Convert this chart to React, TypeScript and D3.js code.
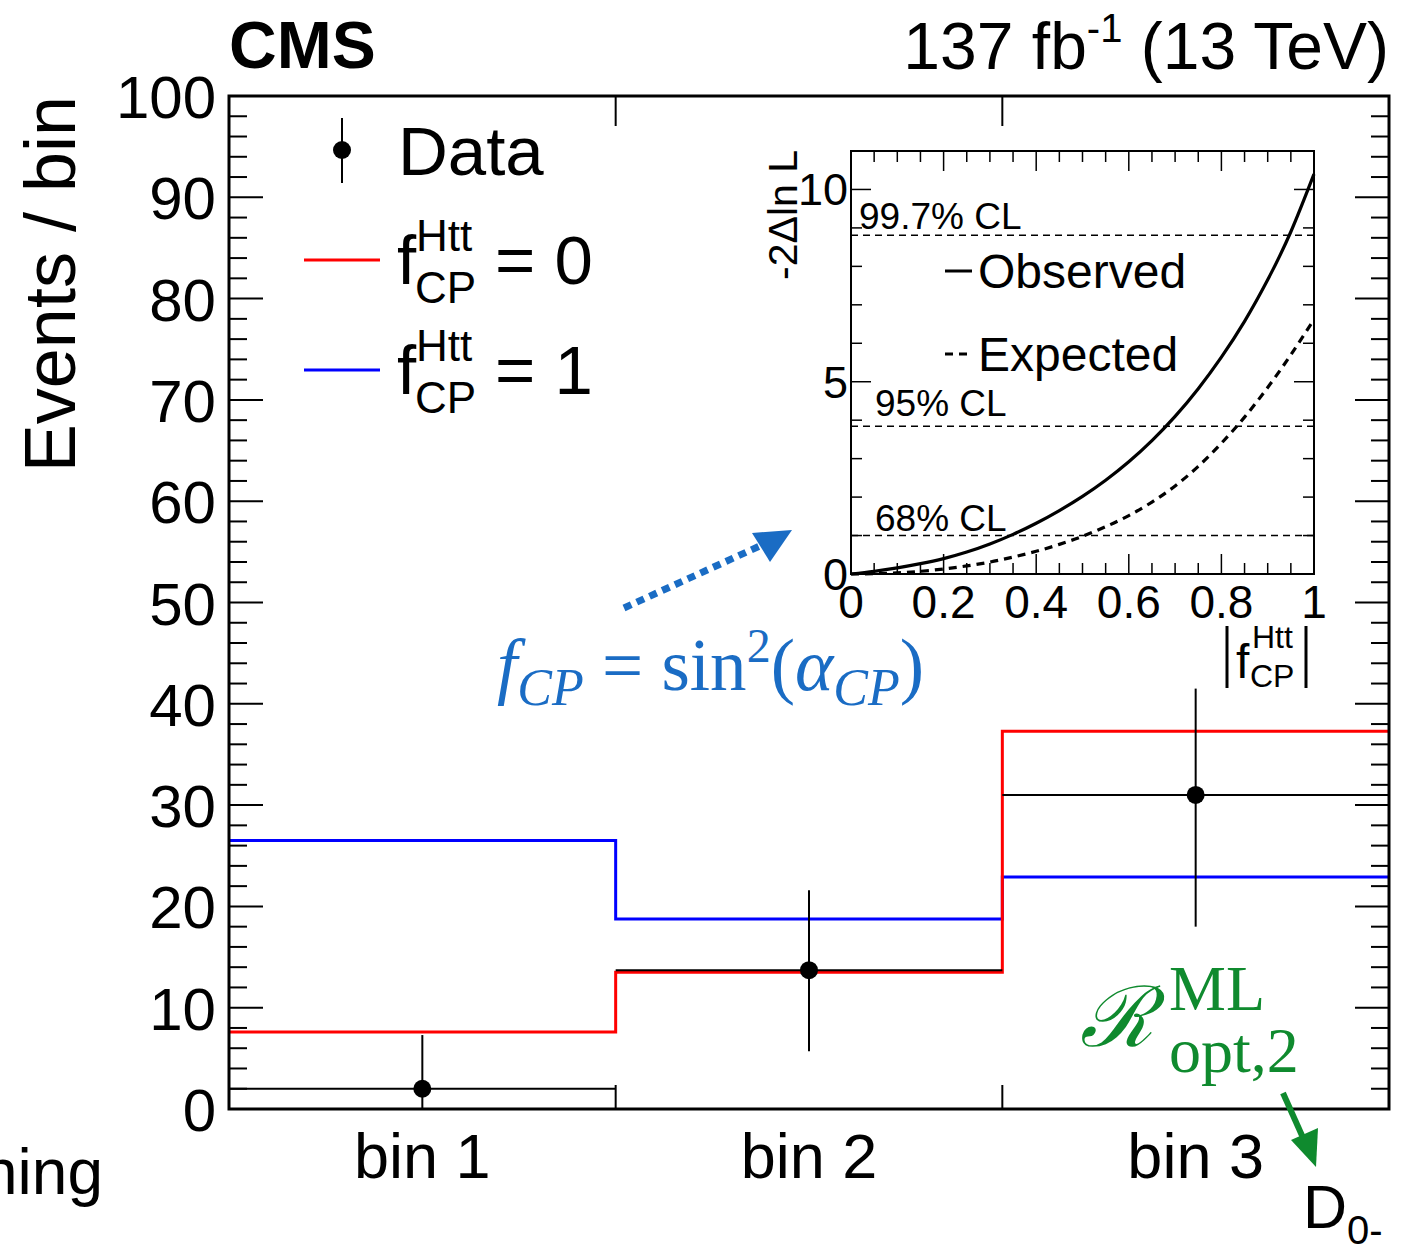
import React from "react";
import * as d3 from "d3";

const bins = ["bin 1", "bin 2", "bin 3"];
const sm0 = [7.6, 13.5, 37.3];
const sm1 = [26.5, 18.75, 22.9];
const dataVal = [2, 13.7, 31];
const dataHi = [7.3, 21.6, 41.5];
const dataLo = [0, 5.7, 18.0];
const yTicks = [0, 10, 20, 30, 40, 50, 60, 70, 80, 90, 100];

const fGrid = [0, 0.05, 0.1, 0.15, 0.2, 0.25, 0.3, 0.35, 0.4, 0.45, 0.5, 0.55, 0.6, 0.65, 0.7, 0.75, 0.8, 0.85, 0.9, 0.95, 1.0];
const observed = [0, 0.07, 0.16, 0.27, 0.4, 0.57, 0.78, 1.03, 1.32, 1.65, 2.02, 2.44, 2.92, 3.47, 4.1, 4.82, 5.64, 6.57, 7.65, 8.9, 10.4];
const expected = [0, 0.01, 0.03, 0.07, 0.13, 0.21, 0.31, 0.44, 0.59, 0.77, 0.98, 1.23, 1.52, 1.87, 2.29, 2.8, 3.4, 4.08, 4.85, 5.7, 6.62];
const clLevels = [1.0, 3.84, 8.81];
const clLabels = ["68% CL", "95% CL", "99.7% CL"];
const insetXTicks = [0, 0.2, 0.4, 0.6, 0.8, 1];
const insetXTickLabels = ["0", "0.2", "0.4", "0.6", "0.8", "1"];
const insetYTicks = [0, 5, 10];

const FONT = "'Liberation Sans', Arial, Helvetica, sans-serif";
const SERIF = "'Liberation Serif', 'DejaVu Serif', 'Times New Roman', serif";
const RED = "#ff0000";
const BLUE = "#0000ff";
const ANN_BLUE = "#1a6cc4";
const GREEN = "#0f8a2e";

export default function App() {
  const L = 229, R = 1389, T = 96, B = 1109;
  const x = d3.scaleLinear().domain([0, 3]).range([L, R]);
  const y = d3.scaleLinear().domain([0, 100]).range([B, T]);

  const stepPath = (vals: number[]) => {
    let p = "";
    vals.forEach((v, i) => {
      p += (i === 0 ? "M" : "L") + x(i) + "," + y(v) + "L" + x(i + 1) + "," + y(v);
    });
    return p;
  };

  // inset
  const iL = 851, iR = 1314, iT = 151, iB = 574;
  const ix = d3.scaleLinear().domain([0, 1]).range([iL, iR]);
  const iy = d3.scaleLinear().domain([0, 11.0]).range([iB, iT]);
  const line = d3
    .line<number>()
    .x((_, i) => ix(fGrid[i]))
    .y((d) => iy(d))
    .curve(d3.curveNatural);

  const minorY = d3.range(0, 101, 2);
  const insetMinorY = d3.range(0, 12, 1);
  const insetMinorX = d3.range(0, 1.0001, 0.05);

  return (
    <svg width={1411} height={1248} style={{ position: "absolute", left: 0, top: 0, background: "#fff" }} fontFamily={FONT}>
      <rect x={0} y={0} width={1411} height={1248} fill="#fff" />
      {/* header */}
      <text x={229} y={68} fontSize={66} fontWeight="bold">CMS</text>
      <text x={1389} y={69} fontSize={66} textAnchor="end">
        137 fb<tspan dy={-27} fontSize={40}>-1</tspan>
        <tspan dy={27}> (13 TeV)</tspan>
      </text>
      {/* y title */}
      <text transform={`translate(75,96) rotate(-90)`} fontSize={72} textAnchor="end">Events / bin</text>

      {/* histograms */}
      <path d={stepPath(sm1)} fill="none" stroke={BLUE} strokeWidth={3} />
      <path d={stepPath(sm0)} fill="none" stroke={RED} strokeWidth={3} />
      {dataVal.map((v, i) => (
        <line key={"dh" + i} x1={x(i)} x2={x(i + 1)} y1={y(v)} y2={y(v)} stroke="#000" strokeWidth={2} />
      ))}
      {dataVal.map((v, i) => (
        <g key={"d" + i}>
          <line x1={x(i + 0.5)} x2={x(i + 0.5)} y1={y(dataLo[i])} y2={y(dataHi[i])} stroke="#000" strokeWidth={2} />
          <circle cx={x(i + 0.5)} cy={y(v)} r={9} fill="#000" />
        </g>
      ))}

      {/* main frame */}
      <rect x={L} y={T} width={R - L} height={B - T} fill="none" stroke="#000" strokeWidth={3} />
      {minorY.map((t) => {
        const major = t % 10 === 0;
        const len = major ? 34 : 18;
        return (
          <g key={"yt" + t}>
            <line x1={L} x2={L + len} y1={y(t)} y2={y(t)} stroke="#000" strokeWidth={2} />
            <line x1={R} x2={R - len} y1={y(t)} y2={y(t)} stroke="#000" strokeWidth={2} />
          </g>
        );
      })}
      {[1, 2].map((b) => (
        <g key={"xt" + b}>
          <line x1={x(b)} x2={x(b)} y1={B} y2={B - 24} stroke="#000" strokeWidth={2} />
          <line x1={x(b)} x2={x(b)} y1={T} y2={T + 30} stroke="#000" strokeWidth={2} />
        </g>
      ))}
      {yTicks.map((t) => (
        <text key={"yl" + t} x={216} y={y(t) + 22} fontSize={60} textAnchor="end">{t}</text>
      ))}
      {bins.map((b, i) => (
        <text key={"bl" + i} x={x(i + 0.5)} y={1178} fontSize={63} textAnchor="middle">{b}</text>
      ))}
      <text x={103} y={1194} fontSize={64} textAnchor="end">hing</text>
      <text x={1303} y={1228} fontSize={61}>D<tspan dy={16} fontSize={40}>0-</tspan></text>

      {/* legend */}
      <line x1={342} x2={342} y1={118} y2={183} stroke="#000" strokeWidth={2} />
      <circle cx={342} cy={150} r={9} fill="#000" />
      <text x={398} y={175} fontSize={69}>Data</text>
      <line x1={304} x2={380} y1={260} y2={260} stroke={RED} strokeWidth={3} />
      <line x1={304} x2={380} y1={370} y2={370} stroke={BLUE} strokeWidth={3} />
      {[0, 1].map((k) => (
        <g key={"lg" + k} transform={`translate(0,${k * 110})`}>
          <text x={397} y={284} fontSize={69}>f</text>
          <text x={416} y={251} fontSize={44}>Htt</text>
          <text x={415} y={303} fontSize={44}>CP</text>
          <text x={495} y={284} fontSize={69}>= {k}</text>
        </g>
      ))}

      {/* annotation */}
      <line x1={624} x2={762} y1={608} y2={545} stroke={ANN_BLUE} strokeWidth={7} strokeDasharray="8 6" />
      <polygon points="792,530 752,533 770,562" fill={ANN_BLUE} />
      <text x={497} y={690} fontSize={73} fill={ANN_BLUE} fontFamily={SERIF}>
        <tspan fontStyle="italic">f</tspan>
        <tspan fontStyle="italic" fontSize={52} dy={15}>CP</tspan>
        <tspan dy={-15}> = sin</tspan>
        <tspan fontSize={48} dy={-28}>2</tspan>
        <tspan dy={28}>(</tspan>
        <tspan fontStyle="italic">α</tspan>
        <tspan fontStyle="italic" fontSize={52} dy={15}>CP</tspan>
        <tspan dy={-15}>)</tspan>
      </text>

      <text x={1080} y={1046} fontSize={84} fill={GREEN} fontFamily={SERIF} fontStyle="italic">ℛ</text>
      <text x={1169} y={1010} fontSize={64} fill={GREEN} fontFamily={SERIF}>ML</text>
      <text x={1169} y={1072} fontSize={64} fill={GREEN} fontFamily={SERIF}>opt,2</text>
      <line x1={1283} x2={1304} y1={1093} y2={1140} stroke={GREEN} strokeWidth={6} />
      <polygon points="1316,1167 1291,1140 1318,1128" fill={GREEN} />

      {/* inset */}
      <rect x={iL} y={iT} width={iR - iL} height={iB - iT} fill="#fff" stroke="#000" strokeWidth={2} />
      {clLevels.map((c, i) => (
        <line key={"cl" + i} x1={iL} x2={iR} y1={iy(c)} y2={iy(c)} stroke="#000" strokeWidth={1.5} strokeDasharray="7 5" />
      ))}
      <text x={875} y={531} fontSize={37}>{clLabels[0]}</text>
      <text x={875} y={416} fontSize={37}>{clLabels[1]}</text>
      <text x={859} y={229} fontSize={37}>{clLabels[2]}</text>
      <path d={line(observed) || ""} fill="none" stroke="#000" strokeWidth={3.2} />
      <path d={line(expected) || ""} fill="none" stroke="#000" strokeWidth={3.2} strokeDasharray="8 6" />
      {insetMinorY.map((t) => {
        const len = t % 5 === 0 ? 20 : 11;
        return (
          <g key={"iyt" + t}>
            <line x1={iL} x2={iL + len} y1={iy(t)} y2={iy(t)} stroke="#000" strokeWidth={1.5} />
            <line x1={iR} x2={iR - len} y1={iy(t)} y2={iy(t)} stroke="#000" strokeWidth={1.5} />
          </g>
        );
      })}
      {insetMinorX.map((t, i) => {
        const len = i % 4 === 0 ? 20 : 11;
        return (
          <g key={"ixt" + i}>
            <line x1={ix(t)} x2={ix(t)} y1={iB} y2={iB - len} stroke="#000" strokeWidth={1.5} />
            <line x1={ix(t)} x2={ix(t)} y1={iT} y2={iT + len} stroke="#000" strokeWidth={1.5} />
          </g>
        );
      })}
      {insetYTicks.map((t) => (
        <text key={"iyl" + t} x={848} y={iy(t) + 16} fontSize={45} textAnchor="end">{t}</text>
      ))}
      {insetXTicks.map((t, i) => (
        <text key={"ixl" + i} x={ix(t)} y={618} fontSize={46} textAnchor="middle">{insetXTickLabels[i]}</text>
      ))}
      <text transform={`translate(797,150) rotate(-90)`} fontSize={41} textAnchor="end">-2Δln L</text>
      <line x1={945} x2={972} y1={271} y2={271} stroke="#000" strokeWidth={3} />
      <text x={978} y={288} fontSize={48}>Observed</text>
      <line x1={945} x2={972} y1={354} y2={354} stroke="#000" strokeWidth={3} strokeDasharray="8 6" />
      <text x={978} y={371} fontSize={48}>Expected</text>
      <line x1={1227} x2={1227} y1={626} y2={688} stroke="#000" strokeWidth={3} />
      <line x1={1306} x2={1306} y1={626} y2={688} stroke="#000" strokeWidth={3} />
      <text x={1236} y={678} fontSize={48}>f</text>
      <text x={1252} y={648} fontSize={32}>Htt</text>
      <text x={1250} y={687} fontSize={32}>CP</text>
    </svg>
  );
}
